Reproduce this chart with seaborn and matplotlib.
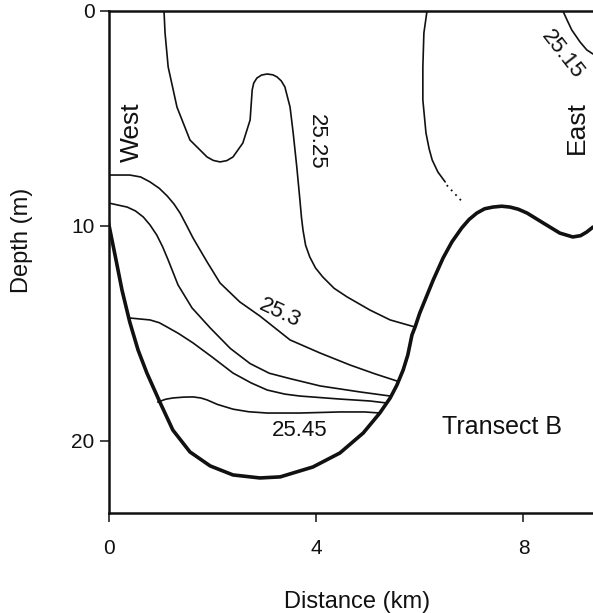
import matplotlib
matplotlib.use("Agg")
import matplotlib.pyplot as plt
import seaborn as sns

# ---- data (distance km, depth m) ----
bottom_x = [0.0, 0.145, 0.26, 0.41, 0.57, 0.74, 0.99, 1.24, 1.57, 1.96, 2.40, 2.92,
            3.31, 3.94, 4.46, 4.91, 5.23, 5.43, 5.56, 5.68, 5.77, 5.85, 5.91, 6.00,
            6.26, 6.45, 6.62, 6.81, 6.95, 7.10, 7.25, 7.41, 7.58, 7.74, 7.90, 8.07,
            8.38, 8.70, 8.95, 9.10, 9.22, 9.34]
bottom_d = [9.85, 11.58, 12.98, 14.47, 15.77, 16.84, 18.19, 19.49, 20.51, 21.16, 21.58, 21.72,
            21.67, 21.21, 20.56, 19.63, 18.70, 18.00, 17.40, 16.70, 16.00, 15.07, 14.70, 14.05,
            12.51, 11.49, 10.74, 10.09, 9.70, 9.40, 9.20, 9.12, 9.08, 9.12, 9.22, 9.40,
            9.86, 10.33, 10.51, 10.45, 10.28, 10.05]

c2525_x = [1.07, 1.09, 1.15, 1.32, 1.57, 1.90, 2.02, 2.15, 2.28, 2.40, 2.59, 2.73, 2.77,
           2.80, 2.86, 2.95, 3.06, 3.17, 3.25, 3.33, 3.40, 3.50, 3.56, 3.63, 3.69, 3.72,
           3.75, 3.80, 3.88, 3.99, 4.13, 4.35, 4.60, 5.04, 5.43, 5.91]
c2525_d = [0.0, 1.02, 2.60, 4.47, 6.00, 6.79, 6.95, 7.02, 6.96, 6.79, 6.14, 5.07, 3.67,
           3.35, 3.12, 2.98, 2.93, 2.97, 3.07, 3.25, 3.53, 4.47, 5.67, 7.26, 8.79, 9.60,
           10.20, 10.90, 11.44, 11.95, 12.37, 12.90, 13.30, 13.91, 14.37, 14.70]

c253_x = [0.0, 0.41, 0.62, 0.80, 0.98, 1.13, 1.26, 1.38, 1.50, 1.63, 1.90, 2.15, 2.53,
          2.92, 3.50, 4.08, 4.66, 5.14, 5.56]
c253_d = [7.63, 7.63, 7.72, 7.95, 8.25, 8.60, 8.97, 9.40, 9.95, 10.56, 11.67, 12.65, 13.53,
          14.19, 15.30, 15.91, 16.47, 16.88, 17.21]

c235_x = [0.0, 0.36, 0.52, 0.67, 0.80, 0.93, 1.04, 1.15, 1.34, 1.61, 1.96, 2.35, 2.73,
          3.10, 3.50, 4.08, 4.85, 5.43]
c235_d = [8.93, 9.12, 9.30, 9.58, 9.95, 10.42, 10.95, 11.58, 12.74, 13.81, 14.74, 15.70, 16.40,
          16.85, 17.10, 17.44, 17.72, 17.91]

c24_x = [0.41, 0.80, 0.98, 1.13, 1.35, 1.63, 2.00, 2.40, 2.75, 3.06, 3.40, 3.69, 4.46,
         5.04, 5.35]
c24_d = [14.28, 14.37, 14.50, 14.70, 15.00, 15.44, 16.10, 16.84, 17.30, 17.63, 17.82, 17.91,
         18.05, 18.14, 18.23]

c2545_x = [0.95, 1.10, 1.24, 1.45, 1.63, 1.78, 1.90, 2.10, 2.40, 2.70, 3.06, 3.69, 4.46,
           4.94, 5.23]
c2545_d = [18.19, 18.06, 18.00, 17.96, 17.95, 18.00, 18.09, 18.30, 18.52, 18.64, 18.70,
           18.70, 18.65, 18.65, 18.70]

east_x = [6.14, 6.08, 6.06, 6.06, 6.12, 6.18, 6.24, 6.35, 6.49]
east_d = [0.0, 1.02, 2.60, 4.14, 5.67, 6.40, 6.93, 7.49, 7.95]
east_dot_x = [6.52, 6.68, 6.83]
east_dot_d = [8.10, 8.51, 8.90]

c2515_x = [8.76, 8.84, 8.93, 9.09, 9.22, 9.34]
c2515_d = [0.0, 0.42, 0.88, 1.44, 1.81, 2.0]

labels = ["25.25", "25.3", "25.45", "25.15", "West", "East", "Transect B"]
label_x = [4.0, 3.31, 3.69, 8.74, 0.45, 9.03, 7.59]
label_d = [6.09, 14.05, 19.53, 2.05, 5.63, 5.44, 19.35]
label_rot = [-90, -25, 0, -52, 90, 90, 0]
label_size = [16, 16, 16, 16, 19, 19, 18]

xticks = [0, 4, 8]
yticks = [0, 10, 20]

# ---- figure ----
sns.set_style("ticks")
plt.rcParams['font.family'] = ['Liberation Sans', 'DejaVu Sans']
ink = "#111111"

fig = plt.figure(figsize=(5.93, 6.13), dpi=100)
ax = fig.add_axes([108.5 / 593, 1 - 513 / 613, 1 - 108.5 / 593, (513 - 11) / 613])

thin = dict(color=ink, linewidth=1.2, sort=False, estimator=None, ax=ax,
            solid_joinstyle='round')
for xs, ds in [(c2525_x, c2525_d), (c253_x, c253_d), (c235_x, c235_d),
               (c24_x, c24_d), (c2545_x, c2545_d), (east_x, east_d), (c2515_x, c2515_d)]:
    sns.lineplot(x=xs, y=ds, **thin)
sns.lineplot(x=east_dot_x, y=east_dot_d, color=ink, linewidth=1.3, linestyle=(0, (1, 2.5)),
             sort=False, estimator=None, ax=ax)
sns.lineplot(x=bottom_x, y=bottom_d, color=ink, linewidth=2.6, sort=False, estimator=None,
             ax=ax, solid_joinstyle='round', solid_capstyle='round')

for t, x, d, r, s in zip(labels, label_x, label_d, label_rot, label_size):
    ax.text(x, d, t, rotation=r, fontsize=s, ha='center', va='center', color=ink,
            rotation_mode='anchor')

ax.set_xlim(0, 9.34)
ax.set_ylim(23.35, 0)
ax.set_xticks(xticks)
ax.set_yticks(yticks)
ax.tick_params(direction='out', length=6.5, width=1.1, labelsize=15, colors=ink)
ax.tick_params(axis='x', pad=12)
ax.tick_params(axis='y', pad=3.6)

for side in ['top', 'left', 'bottom']:
    ax.spines[side].set_color(ink)
    ax.spines[side].set_linewidth(1.8)
ax.spines['right'].set_visible(False)

ax.set_xlabel('Distance (km)', fontsize=17, color=ink)
ax.set_ylabel('Depth (m)', fontsize=17, color=ink)
ax.xaxis.set_label_coords(0.513, -0.155)
ax.yaxis.set_label_coords(-0.156, 0.544)

fig.savefig("out.png", dpi=100)
